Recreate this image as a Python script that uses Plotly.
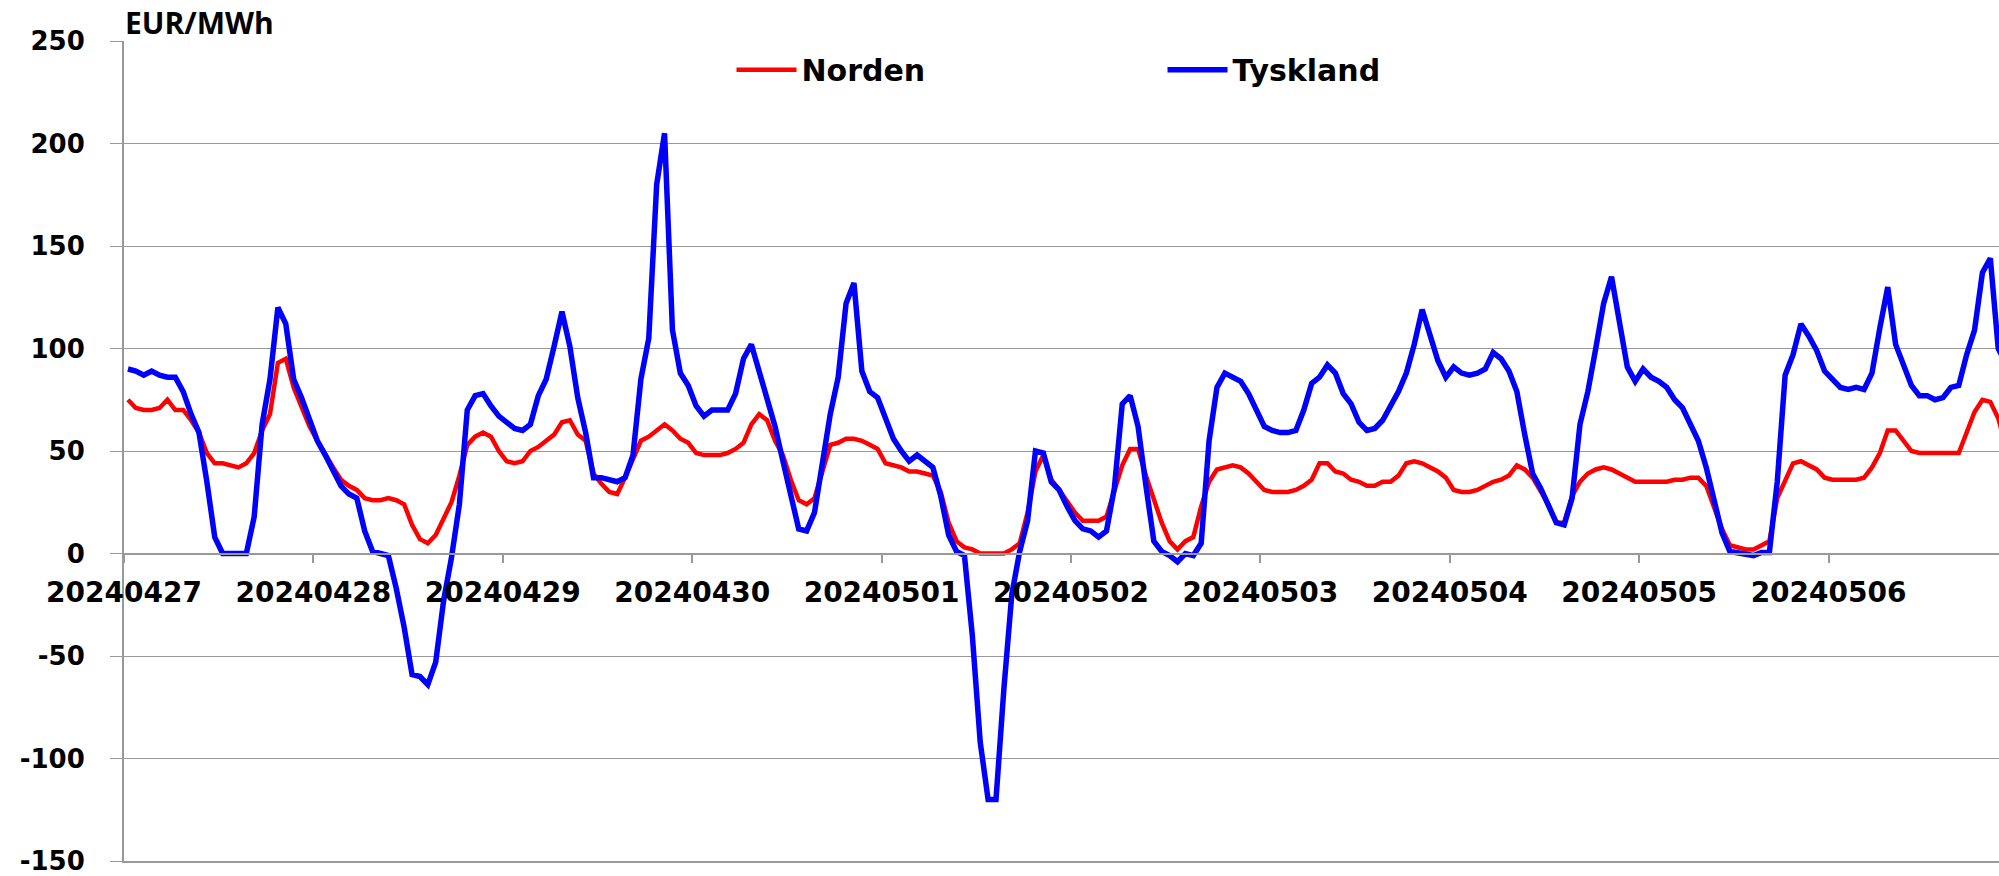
import plotly.graph_objects as go

days = ["20240427", "20240428", "20240429", "20240430", "20240501",
        "20240502", "20240503", "20240504", "20240505", "20240506"]
hours_per_day = 24

y_ticks = [-150, -100, -50, 0, 50, 100, 150, 200, 250]
y_tick_text = ["-150", "-100", "-50", "0", "50", "100", "150", "200", "250"]

norden = [
    75, 71, 70, 70, 71, 75, 70, 70, 65, 59, 49, 44, 44, 43, 42, 44, 49, 60, 68, 93, 95, 81, 71, 62,
    55, 48, 42, 36, 33, 31, 27, 26, 26, 27, 26, 24, 14, 7, 5, 9, 17, 25, 38, 53, 57, 59, 57, 50,
    45, 44, 45, 50, 52, 55, 58, 64, 65, 58, 55, 39, 34, 30, 29, 37, 46, 55, 57, 60, 63, 60, 56, 54,
    49, 48, 48, 48, 49, 51, 54, 63, 68, 65, 55, 48, 36, 26, 24, 27, 40, 53, 54, 56, 56, 55, 53, 51,
    44, 43, 42, 40, 40, 39, 38, 30, 15, 6, 3, 2, 0, 0, 0, 0, 2, 5, 20, 40, 48, 36, 31, 25,
    20, 16, 16, 16, 18, 30, 43, 51, 51, 38, 27, 15, 6, 2, 6, 8, 23, 35, 41, 42, 43, 42, 39, 35,
    31, 30, 30, 30, 31, 33, 36, 44, 44, 40, 39, 36, 35, 33, 33, 35, 35, 38, 44, 45, 44, 42, 40, 37,
    31, 30, 30, 31, 33, 35, 36, 38, 43, 41, 37, 31, 24, 15, 15, 28, 35, 39, 41, 42, 41, 39, 37, 35,
    35, 35, 35, 35, 36, 36, 37, 37, 33, 22, 12, 4, 3, 2, 2, 4, 6, 27, 36, 44, 45, 43, 41, 37,
    36, 36, 36, 36, 37, 42, 49, 60, 60, 55, 50, 49, 49, 49, 49, 49, 49, 59, 69, 75, 74, 66, 52, 48,
]

tyskland = [
    90, 89, 87, 89, 87, 86, 86, 79, 68, 59, 35, 8, 0, 0, 0, 0, 18, 63, 85, 120, 112, 85, 76, 65,
    55, 48, 41, 33, 29, 27, 11, 1, 0, -1, -17, -36, -59, -60, -64, -53, -23, -2, 24, 70, 77, 78, 72, 67,
    64, 61, 60, 63, 77, 85, 101, 118, 101, 76, 59, 37, 37, 36, 35, 37, 48, 85, 105, 180, 205, 109, 88, 82,
    72, 67, 70, 70, 70, 78, 95, 102, 89, 76, 62, 45, 29, 12, 11, 20, 44, 68, 86, 122, 132, 89, 79, 76,
    66, 56, 50, 45, 48, 45, 42, 28, 9, 1, -1, -40, -92, -120, -120, -66, -20, 1, 16, 50, 49, 35, 31, 23,
    16, 12, 11, 8, 11, 32, 73, 77, 62, 33, 6, 1, -1, -4, 0, -1, 5, 55, 81, 88, 86, 84, 78, 70,
    62, 60, 59, 59, 60, 70, 83, 86, 92, 88, 78, 73, 64, 60, 61, 65, 72, 79, 88, 102, 119, 107, 94, 86,
    91, 88, 87, 88, 90, 98, 95, 89, 79, 58, 39, 32, 24, 15, 14, 27, 63, 79, 100, 122, 135, 114, 91, 84,
    90, 86, 84, 81, 75, 71, 63, 55, 42, 26, 10, 1, 0.5, 0, -1, 0.5, 0.5, 35, 87, 97, 112, 106, 99, 89,
    85, 81, 80, 81, 80, 88, 110, 130, 102, 91, 82, 77, 77, 75, 76, 81, 82, 97, 109, 137, 144, 100, 92, 85,
]

x = list(range(len(norden)))
tick_pos = [d * hours_per_day - 0.5 for d in range(len(days))]

AXIS_GREY = "#999999"
FONT = "DejaVu Sans"

fig = go.Figure()
fig.add_trace(go.Scatter(x=x, y=norden, mode="lines", name="Norden",
                         line=dict(color="#FF0000", width=4.5)))
fig.add_trace(go.Scatter(x=x, y=tyskland, mode="lines", name="Tyskland",
                         line=dict(color="#0000FF", width=5.5)))
# invisible helper trace to draw the frame line along the bottom of the plot
fig.add_trace(go.Scatter(x=[x[0]], y=[norden[0]], xaxis="x2", mode="lines",
                         showlegend=False, hoverinfo="skip", line=dict(width=0)))

fig.update_layout(
    width=1999, height=876,
    margin=dict(l=124, r=0, t=41, b=12),
    plot_bgcolor="white", paper_bgcolor="white",
    showlegend=True,
    legend=dict(orientation="h", x=0.324, y=0.965, xanchor="left", yanchor="middle",
                font=dict(family=FONT, size=30, color="black", weight="bold"),
                entrywidth=356, entrywidthmode="pixels", itemwidth=60,
                bgcolor="rgba(0,0,0,0)"),
    xaxis=dict(range=[-0.5, 237.1], tickvals=tick_pos, ticktext=days,
               showgrid=False, zeroline=False, showline=True, linecolor=AXIS_GREY,
               linewidth=2, anchor="free", position=0.375,
               ticks="outside", ticklen=8, tickwidth=2, tickcolor=AXIS_GREY,
               ticklabelstandoff=6,
               tickfont=dict(family=FONT, size=28, color="black", weight="bold")),
    xaxis2=dict(range=[-0.5, 237.1], overlaying="x", anchor="y", side="bottom",
                showgrid=False, zeroline=False, showline=True, linecolor=AXIS_GREY,
                linewidth=1.5, showticklabels=False, ticks=""),
    yaxis=dict(range=[-150, 250], tickvals=y_ticks, ticktext=y_tick_text,
               showgrid=True, gridcolor=AXIS_GREY, gridwidth=1.3,
               zeroline=False, showline=True, linecolor=AXIS_GREY, linewidth=2,
               ticks="outside", ticklen=12, tickwidth=1.3, tickcolor=AXIS_GREY,
               ticklabelstandoff=20, ticklabeloverflow="allow",
               tickfont=dict(family=FONT, size=26, color="black", weight="bold")),
    annotations=[dict(text="EUR/MWh", xref="paper", yref="paper", x=0.0, y=1.022,
                      xanchor="left", yanchor="middle", showarrow=False, borderpad=0,
                      font=dict(family="Open Sans", size=30, color="black", weight="bold"))],
)

fig.write_html("out.html", config={"displayModeBar": False},
               post_script="document.body.style.margin='0px';")
